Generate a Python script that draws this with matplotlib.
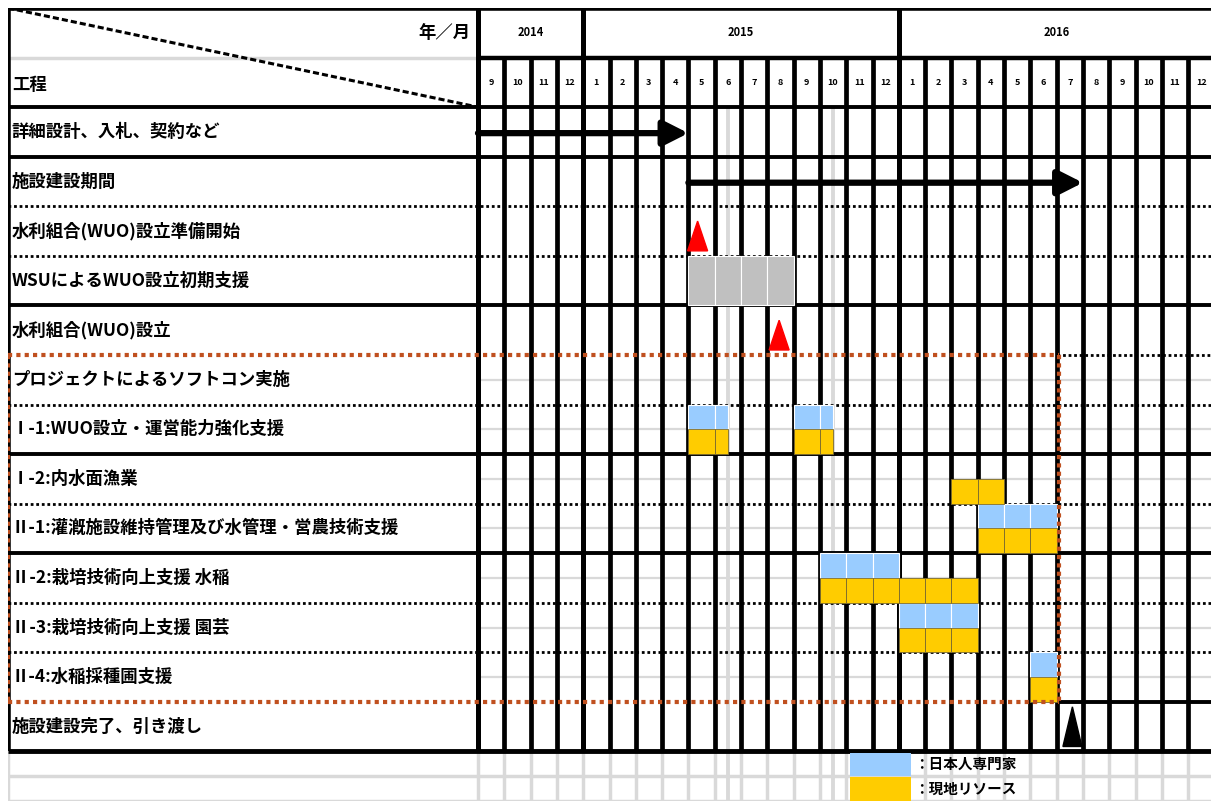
import numpy as np
import matplotlib
matplotlib.use('Agg')
import matplotlib.pyplot as plt
from matplotlib.patches import Polygon

plt.rcParams['font.family'] = ['Noto Sans CJK JP', 'DejaVu Sans']

# --- data -------------------------------------------------------------
years = ['2014', '2015', '2016']
year_months = [4, 12, 12]
months = ['9', '10', '11', '12',
          '1', '2', '3', '4', '5', '6', '7', '8', '9', '10', '11', '12',
          '1', '2', '3', '4', '5', '6', '7', '8', '9', '10', '11', '12']

tasks = ['詳細設計、入札、契約など',
         '施設建設期間',
         '水利組合(WUO)設立準備開始',
         'WSUによるWUO設立初期支援',
         '水利組合(WUO)設立',
         'プロジェクトによるソフトコン実施',
         'Ⅰ-1:WUO設立・運営能力強化支援',
         'Ⅰ-2:内水面漁業',
         'Ⅱ-1:灌漑施設維持管理及び水管理・営農技術支援',
         'Ⅱ-2:栽培技術向上支援 水稲',
         'Ⅱ-3:栽培技術向上支援 園芸',
         'Ⅱ-4:水稲採種圃支援',
         '施設建設完了、引き渡し']

# arrows: (task row, start month index, end month index)
arrows = [(0, 0, 8), (1, 8, 23)]
# milestones: (task row, month position)
milestones_red = [(2, 8.35), (4, 11.45)]
milestones_black = [(12, 22.6)]
# gray support block: (row, start, length)
gray_blocks = [(3, 8, 4)]
# Japanese experts (top half) / local resources (bottom half)
expert_bars = [(6, 8, 1.5), (6, 12, 1.5), (8, 19, 3), (9, 13, 3), (10, 16, 3), (11, 21, 1)]
local_bars = [(6, 8, 1.5), (6, 12, 1.5), (7, 18, 2), (8, 19, 3), (9, 13, 6), (10, 16, 3), (11, 21, 1)]

legend_labels = ['：日本人専門家', '：現地リソース']

BLUE = '#99CCFF'
YELLOW = '#FFCC00'
GRAYFILL = '#C0C0C0'
ORANGE = '#C0501F'
LGRAY = '#D9D9D9'

# --- layout -----------------------------------------------------------
fig = plt.figure(figsize=(12.11, 8.01), dpi=100)
ax = fig.add_axes([8 / 1211, 0, 1203 / 1211, 793 / 801])
L = -17.87        # left edge of label column (month units)
R = 27.87
ax.set_xlim(L, R)
ax.set_ylim(32, 0)
ax.axis('off')

nm = len(months)
body_top = 4
body_bot = 4 + 2 * len(tasks)


def row_top(r):
    return body_top + 2 * r


# light gray grid (mid-row lines, legend rows, special columns)
for r in range(5, 12):
    ax.hlines(row_top(r) + 1, 0, R, color=LGRAY, lw=1.6, zorder=1)
for y in [31, 32]:
    ax.hlines(y, L, R, color=LGRAY, lw=2.5, zorder=1)
ax.vlines(list(range(0, nm + 1)) + [L], body_bot, 32, color=LGRAY, lw=2.5, zorder=1)
ax.vlines([9.5, 13.5], body_top, 32, color=LGRAY, lw=2.8, zorder=1)
ax.hlines(2, L, 0, color=LGRAY, lw=2.5, zorder=1)

# black vertical grid
ax.vlines(range(1, nm + 1), 2, body_bot, color='black', lw=3.4, zorder=2)
year_edges = np.cumsum([0] + year_months)
ax.vlines(year_edges, 0, body_bot, color='black', lw=3.6, zorder=2)
ax.vlines(L, 0, body_bot, color='black', lw=4, zorder=2)

# horizontal lines
ax.hlines(0, L, R, color='black', lw=4, zorder=2)
ax.hlines(2, 0, R, color='black', lw=3.2, zorder=2)
for y in [4, 6, 12, 18, 22]:
    ax.hlines(y, L, R, color='black', lw=2.8, zorder=2)
ax.hlines(body_bot, L, R, color='black', lw=3.5, zorder=2)
for y in [8, 10, 16, 20, 24, 26]:
    ax.hlines(y, L, R, color='black', lw=2, linestyles=(0, (1, 1)), zorder=2)
ax.hlines(14, 22, R, color='black', lw=2, linestyles=(0, (1, 1)), zorder=2)
ax.hlines(28, 22, R, color='black', lw=2.8, zorder=2)

# diagonal in the header corner
ax.plot([L, 0], [0, 4], color='black', lw=2.2, ls=(0, (2, 1)), zorder=2)

# header text
for i, y in enumerate(years):
    ax.text((year_edges[i] + year_edges[i + 1]) / 2, 1.0, y, ha='center', va='center',
            fontsize=8, fontweight='bold', zorder=4, clip_on=True)
for i, m in enumerate(months):
    ax.text(i + 0.5, 3.0, m, ha='center', va='center', fontsize=6.5,
            fontweight='bold', zorder=4, clip_on=True)
ax.text(-0.3, 1.0, '年／月', ha='right', va='center', fontsize=12.5, fontweight='bold')
ax.text(L + 0.15, 3.1, '工程', ha='left', va='center', fontsize=12.5, fontweight='bold')

# task labels
for r, t in enumerate(tasks):
    ax.text(L + 0.15, row_top(r) + 1, t, ha='left', va='center',
            fontsize=12.5, fontweight='bold', zorder=4)


def cells(start, length):
    edges = np.unique(np.concatenate([[start, start + length],
                                      np.arange(np.ceil(start), start + length)]))
    return edges[:-1], np.diff(edges)


# bars
for r, s, n in gray_blocks:
    lefts, widths = cells(s, n)
    ax.bar(lefts, 2, width=widths, bottom=row_top(r), align='edge',
           color=GRAYFILL, edgecolor='white', lw=0.8, zorder=3)
for r, s, n in expert_bars:
    lefts, widths = cells(s, n)
    ax.bar(lefts, 1, width=widths, bottom=row_top(r), align='edge',
           color=BLUE, edgecolor='white', lw=0.8, zorder=3)
for r, s, n in local_bars:
    lefts, widths = cells(s, n)
    ax.bar(lefts, 1, width=widths, bottom=row_top(r) + 1, align='edge',
           color=YELLOW, edgecolor='#7a6a30', lw=0.6, zorder=3)

# arrows
for r, s, e in arrows:
    ax.annotate('', xy=(e, row_top(r) + 1.05), xytext=(s, row_top(r) + 1.05),
                arrowprops=dict(arrowstyle='-|>,head_length=0.75,head_width=0.38',
                                lw=4.5, color='black', shrinkA=0, shrinkB=0,
                                mutation_scale=20), zorder=5)

# milestones
for r, x in milestones_red:
    base = row_top(r) + 1.8
    ax.add_patch(Polygon([[x - 0.38, base], [x + 0.38, base], [x, base - 1.2]],
                         closed=True, color='#FF0000', zorder=5))
for r, x in milestones_black:
    base = row_top(r) + 1.8
    ax.add_patch(Polygon([[x - 0.36, base], [x + 0.36, base], [x, base - 1.6]],
                         closed=True, color='black', zorder=5))

# orange dotted frame around the soft component block
ax.hlines([14, 28], L, 22.1, color=ORANGE, lw=3, linestyles=(0, (1, 1)), zorder=4)
ax.vlines([L, 22.1], 14, 28, color=ORANGE, lw=3, linestyles=(0, (1, 1)), zorder=4)

# legend
for i, (lab, col) in enumerate(zip(legend_labels, [BLUE, YELLOW])):
    ax.bar(14.15, 0.95, width=2.3, bottom=30.05 + i, align='edge', color=col, zorder=3)
    ax.text(16.6, 30.5 + i, lab, ha='left', va='center', fontsize=10.5,
            fontweight='bold', zorder=4)

fig.savefig('out.png', dpi=100)
